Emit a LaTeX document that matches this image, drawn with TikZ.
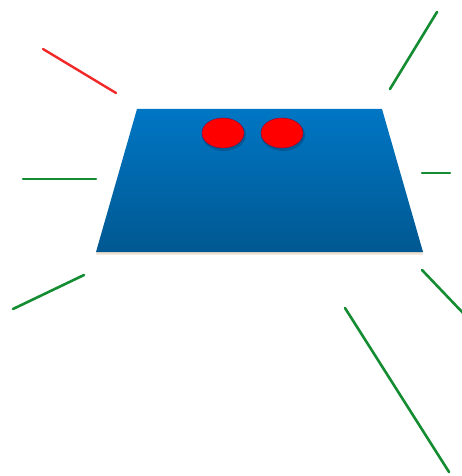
\documentclass[tikz,border=0pt]{standalone}
\usetikzlibrary{shapes.geometric}
\definecolor{ln}{RGB}{20,140,50}
\definecolor{rd}{RGB}{240,40,40}
\definecolor{tt}{RGB}{0,118,196}
\definecolor{tb}{RGB}{0,88,145}
\tikzset{
  ray/.style={draw=ln, line width=2.6pt, line cap=round},
  redray/.style={draw=rd, line width=2.4pt, line cap=round},
  dot/.style={ellipse, fill=red, draw=red!75!blue!80!black, line width=0.5pt, minimum width=42pt, minimum height=30pt, inner sep=0pt},
  dotshadow/.style={fill=black, opacity=0.18}
}
\begin{document}
\begin{tikzpicture}[x=1pt,y=-1pt]
\useasboundingbox[fill=white] (0,0) rectangle (462,476);
% trapezoid
\coordinate (tl) at (137,109);
\coordinate (tr) at (382,109);
\coordinate (br) at (423,252);
\coordinate (bl) at (96,252);
\fill[brown!35, opacity=0.7] ([yshift=-2pt]tl) -- ([yshift=-2pt]tr) -- ([yshift=-2.5pt]br) -- ([yshift=-2.5pt]bl) -- cycle;
\shade[top color=tt, bottom color=tb] (tl) -- (tr) -- (br) -- (bl) -- cycle;
% dots
\fill[dotshadow] (224,135) ellipse (22 and 16);
\fill[dotshadow] (283,135) ellipse (22 and 16);
\node[dot] (d1) at (223,133) {};
\node[dot] (d2) at (282,133) {};
% rays
\coordinate (r1a) at (43,49);   \coordinate (r1b) at (116,93);
\coordinate (g1a) at (23,179);  \coordinate (g1b) at (96,179);
\coordinate (g2a) at (13,309);  \coordinate (g2b) at (84,275);
\coordinate (g3a) at (437,12);  \coordinate (g3b) at (390,89);
\coordinate (g4a) at (422,173); \coordinate (g4b) at (450,173);
\coordinate (g5a) at (422,270); \coordinate (g5b) at (464,314);
\coordinate (g6a) at (345,308); \coordinate (g6b) at (449,472);
\draw[redray] (r1a) -- (r1b);
\draw[ray] (g1a) -- (g1b);
\draw[ray] (g2a) -- (g2b);
\draw[ray] (g3a) -- (g3b);
\draw[ray] (g4a) -- (g4b);
\draw[ray] (g5a) -- (g5b);
\draw[ray] (g6a) -- (g6b);
\end{tikzpicture}
\end{document}
